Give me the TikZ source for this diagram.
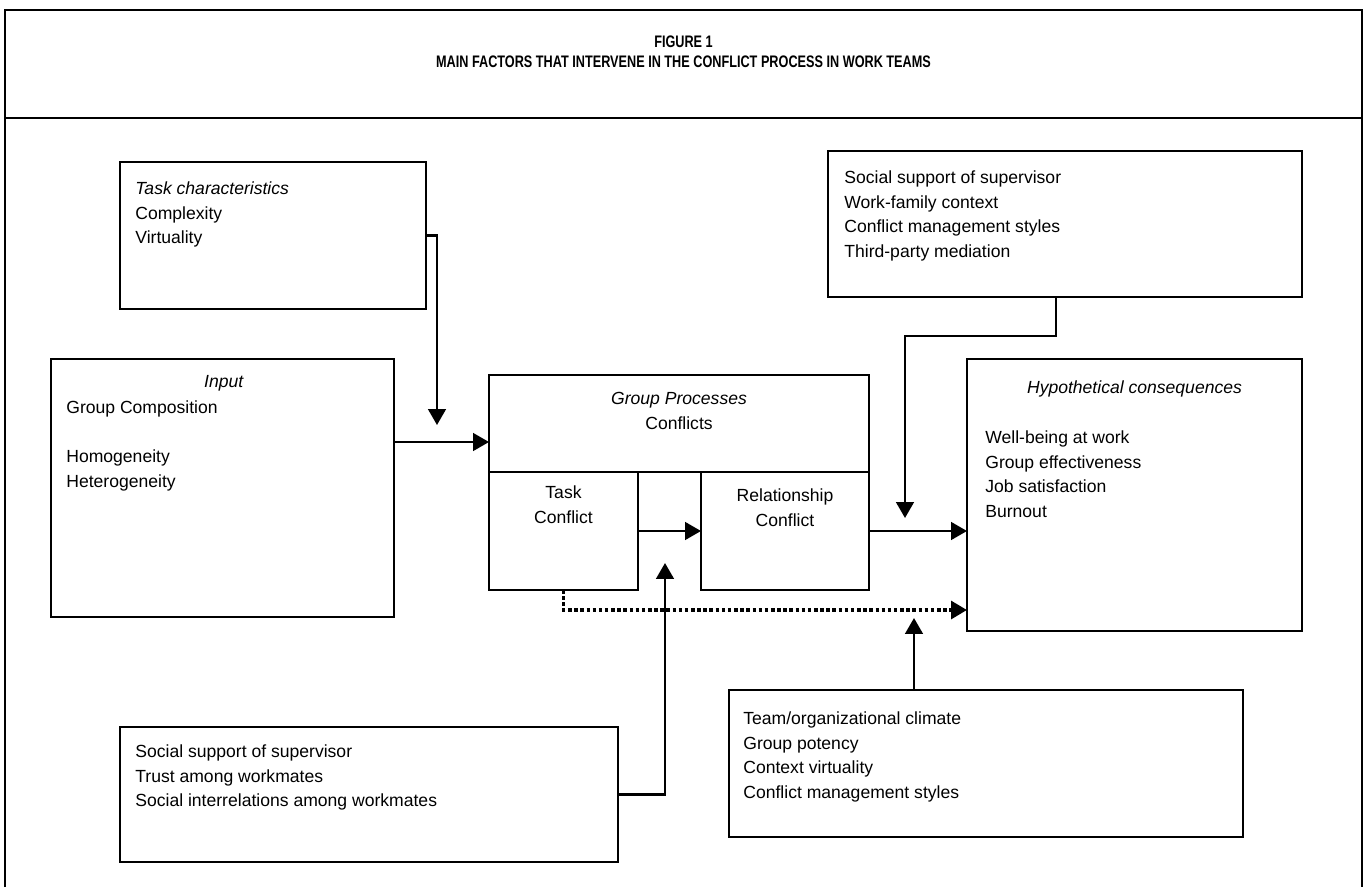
\documentclass[tikz,border=0pt]{standalone}
\usepackage{fontspec}
\setmainfont{Liberation Sans}
\newfontfamily\titlefont[FakeStretch=0.76]{Liberation Sans}
\usepackage{tikz}
\usetikzlibrary{positioning}
\usetikzlibrary{arrows.meta}
\newcommand{\bodyfont}{\fontsize{10}{14.2}\selectfont}

\tikzset{
	box/.style={draw, line width=1.3pt, anchor=north west, inner sep=0pt, outer sep=0pt},
	txt/.style={anchor=north west, align=left, inner sep=0pt, font=\bodyfont},
	head/.style={anchor=north, align=center, inner sep=0pt, font=\bodyfont},
	arr/.style={line width=1.3pt, -{Triangle[length=9pt,width=10pt]}},
	dotarr/.style={arr, line width=2.1pt, dash pattern=on 2pt off 1.5pt}
}

\begin{document}
\begin{tikzpicture}[x=0.02cm, y=-0.02cm]
	\useasboundingbox (0,0) rectangle (1367,887);
	\draw[line width=1.5pt] (5,887) -- (5,10) -- (1362,10) -- (1362,887);
	\draw[line width=1.5pt] (5,118) -- (1362,118);
	\node[align=center, inner sep=0pt, font=\titlefont\fontsize{9.5}{11.4}\selectfont\bfseries] (title) at (683.5,52) {FIGURE 1\\MAIN FACTORS THAT INTERVENE IN THE CONFLICT PROCESS IN WORK TEAMS};
	
	\node[box, minimum width=6.12cm, minimum height=2.94cm] (taskchar) at (120,162) {};
	\node[box, minimum width=6.86cm, minimum height=5.16cm] (input) at (51,359) {};
	\node[box, minimum width=7.6cm, minimum height=1.94cm] (groupproc) at (489,375) {};
	\node[box, minimum width=2.98cm, minimum height=2.36cm] (taskconf) at (489,472) {};
	\node[box, minimum width=3.36cm, minimum height=2.36cm] (relconf) at (701,472) {};
	\node[box, minimum width=9.48cm, minimum height=2.92cm] (supervisor) at (828,151) {};
	\node[box, minimum width=6.7cm, minimum height=5.44cm] (consequences) at (967,359) {};
	\node[box, minimum width=9.96cm, minimum height=2.7cm] (workmates) at (120,727) {};
	\node[box, minimum width=10.28cm, minimum height=2.94cm] (climate) at (729,690) {};
	
	\node[txt] (taskchartext) at (135,181) {\textit{Task characteristics}\\Complexity\\Virtuality};
	\node[head] (inputhead) at (224,375) {\textit{Input}};
	\node[txt] (inputtext) at (66,400) {Group Composition\\[14.2pt]Homogeneity\\Heterogeneity};
	\node[head] (groupproctext) at (679,392) {\textit{Group Processes}\\Conflicts};
	\node[head] (taskconftext) at (563.5,485) {Task\\Conflict};
	\node[head] (relconftext) at (785,488) {Relationship\\Conflict};
	\node[txt] (supervisortext) at (844,170) {Social support of supervisor\\Work-family context\\Conflict management styles\\Third-party mediation};
	\node[head] (conshead) at (1134.5,380) {\textit{Hypothetical consequences}};
	\node[txt] (constext) at (985,430) {Well-being at work\\Group effectiveness\\Job satisfaction\\Burnout};
	\node[txt] (workmatestext) at (135,744) {Social support of supervisor\\Trust among workmates\\Social interrelations among workmates};
	\node[txt] (climatetext) at (743,711) {Team/organizational climate\\Group potency\\Context virtuality\\Conflict management styles};
	
	\coordinate (tcend) at (437,425);
	\coordinate (gpin) at (489,442);
	\coordinate (supdrop) at (1056,336);
	\coordinate (supend) at (905,518);
	\coordinate (dotend) at (967,610);
	\coordinate (wmend) at (665,563);
	\coordinate (clend) at (914,618);
	
	\draw[arr] (taskchar.east) -| (tcend);
	\draw[arr] (input.east |- gpin) -- (gpin);
	\draw[arr] (taskconf) -- (relconf);
	\draw[arr] (relconf) -- (relconf -| consequences.west);
	\draw[arr] (supervisor.south -| supdrop) -- (supdrop) -| (supend);
	\draw[dotarr] (taskconf.south) |- (dotend);
	\draw[arr] (workmates.east) -| (wmend);
	\draw[arr] (climate.north -| clend) -- (clend);
\end{tikzpicture}
\end{document}
